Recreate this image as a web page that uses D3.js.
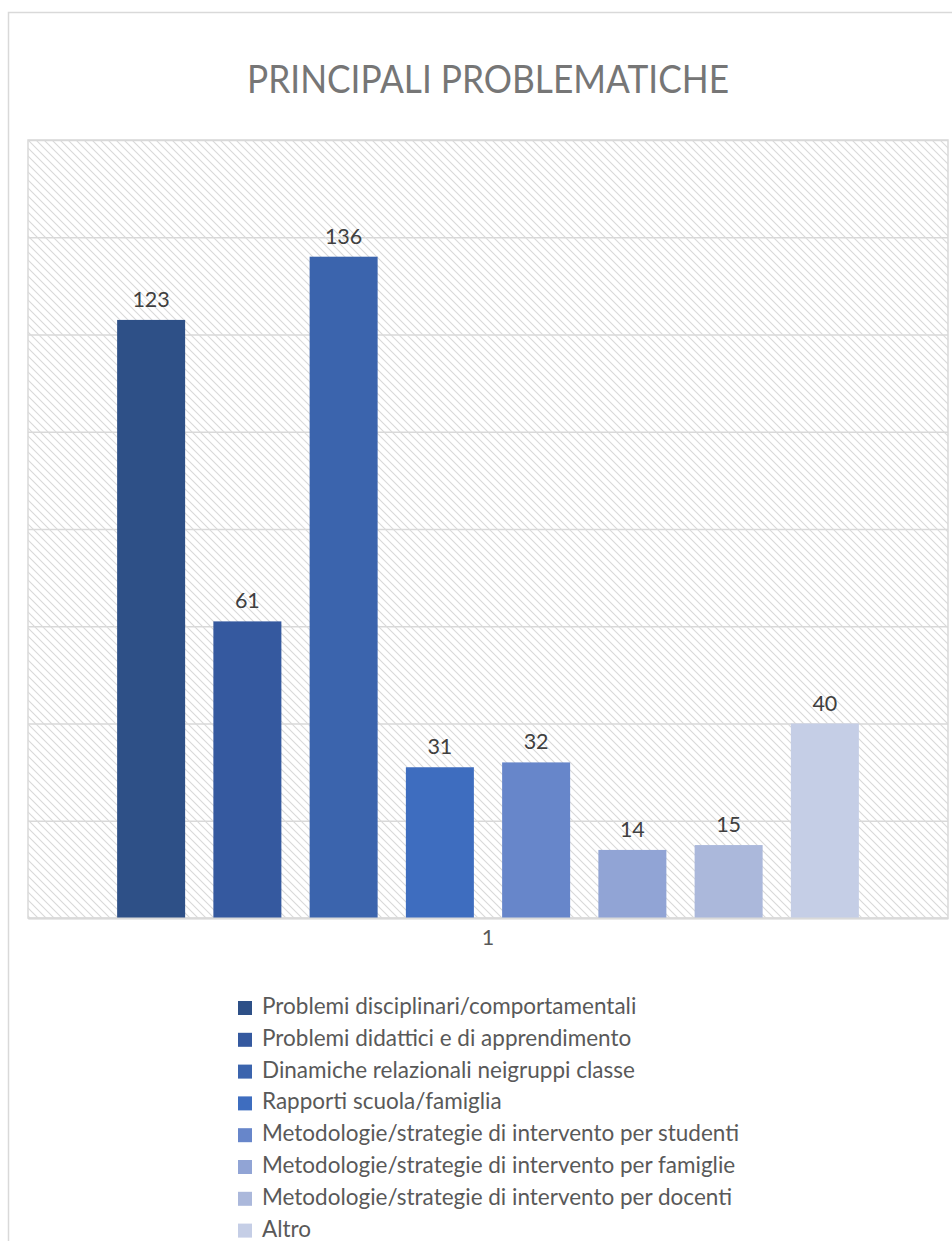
<!DOCTYPE html>
<html>
<head>
<meta charset="utf-8">
<script src="https://cdn.jsdelivr.net/npm/d3@7"></script>
<style>
  html, body { margin: 0; padding: 0; background: #fff; }
  svg { display: block; }
  text { font-family: Lato, "Open Sans", sans-serif; }
</style>
</head>
<body>
<div id="chart"></div>
<script>
// values
const categories = ["1"];
const series = [
  "Problemi disciplinari/comportamentali",
  "Problemi didattici e di apprendimento",
  "Dinamiche relazionali neigruppi classe",
  "Rapporti scuola/famiglia",
  "Metodologie/strategie di intervento per studenti",
  "Metodologie/strategie di intervento per famiglie",
  "Metodologie/strategie di intervento per docenti",
  "Altro"
];
const values = [123, 61, 136, 31, 32, 14, 15, 40];
const yTicks = [0, 20, 40, 60, 80, 100, 120, 140, 160];
const colors = ["#2e5087", "#35599f", "#3b64ad", "#3e6dbf", "#6786ca", "#91a4d5", "#abb8db", "#c5cee6"];

const width = 952, height = 1241;
const plot = {left: 28, right: 948, top: 140, bottom: 918};

const svg = d3.select("#chart").append("svg")
    .attr("width", width)
    .attr("height", height);

// hatch fill of the plot area
const defs = svg.append("defs");
const pat = defs.append("pattern")
    .attr("id", "hatch")
    .attr("patternUnits", "userSpaceOnUse")
    .attr("width", 8).attr("height", 8);
pat.append("rect").attr("width", 8).attr("height", 8).attr("fill", "#fff");
pat.append("path")
    .attr("d", "M-2,-2 L10,10 M-2,6 L2,10 M6,-2 L10,2")
    .attr("stroke", "#d9d9d9")
    .attr("stroke-width", 1.1);

// outer chart border (runs off the picture on the right and bottom)
svg.append("rect")
    .attr("x", 8.5).attr("y", 12.5)
    .attr("width", 1000).attr("height", 1300)
    .attr("fill", "none")
    .attr("stroke", "#d9d9d9")
    .attr("stroke-width", 1.5);

// title, squeezed to the narrow width of the original face
svg.append("text")
    .attr("x", (plot.left + plot.right) / 2)
    .attr("y", 93)
    .attr("text-anchor", "middle")
    .attr("fill", "#767676")
    .attr("textLength", 482)
    .attr("lengthAdjust", "spacingAndGlyphs")
    .style("font-size", "39px")
    .text("PRINCIPALI PROBLEMATICHE");

const y = d3.scaleLinear()
    .domain([0, d3.max(yTicks)])
    .range([plot.bottom, plot.top]);

const x0 = d3.scaleBand()
    .domain(categories)
    .range([plot.left, plot.right])
    .paddingOuter(0.0974);

const x1 = d3.scaleBand()
    .domain(series)
    .range([0, x0.bandwidth()])
    .paddingInner(0.2935)
    .paddingOuter(0.1468);

svg.append("rect")
    .attr("x", plot.left).attr("y", plot.top)
    .attr("width", plot.right - plot.left)
    .attr("height", plot.bottom - plot.top)
    .attr("fill", "url(#hatch)")
    .attr("stroke", "#d9d9d9")
    .attr("stroke-width", 1.5);

// gridlines
svg.append("g")
    .attr("transform", `translate(${plot.left},0)`)
    .call(d3.axisLeft(y).tickValues(yTicks).tickSize(-(plot.right - plot.left)).tickFormat(""))
    .call(g => g.select(".domain").remove())
    .call(g => g.selectAll("line").attr("stroke", "#d9d9d9").attr("stroke-width", 1.5));

const grp = svg.append("g")
    .attr("transform", `translate(${x0(categories[0])},0)`);

grp.selectAll("rect.bar")
    .data(values)
    .enter().append("rect")
    .attr("class", "bar")
    .attr("x", (d, i) => x1(series[i]))
    .attr("y", d => y(d))
    .attr("width", x1.bandwidth())
    .attr("height", d => y(0) - y(d))
    .attr("fill", (d, i) => colors[i]);

grp.selectAll("text.lbl")
    .data(values)
    .enter().append("text")
    .attr("class", "lbl")
    .attr("x", (d, i) => x1(series[i]) + x1.bandwidth() / 2)
    .attr("y", d => y(d) - 13)
    .attr("text-anchor", "middle")
    .attr("fill", "#404040")
    .style("font-size", "21.5px")
    .text(d => d);

// category axis
const xAxis = svg.append("g")
    .attr("transform", `translate(0,${plot.bottom})`)
    .call(d3.axisBottom(x0).tickSize(0).tickPadding(12));
xAxis.select(".domain").attr("stroke", "#d9d9d9").attr("stroke-width", 2);
xAxis.selectAll("text")
    .attr("fill", "#595959")
    .style("font-size", "21.5px")
    .style("font-family", "Lato, sans-serif");

// legend
const legend = svg.append("g")
    .attr("transform", "translate(238,1001)");
const rows = legend.selectAll("g")
    .data(series)
    .enter().append("g")
    .attr("transform", (d, i) => `translate(0,${i * 31.8})`);
rows.append("rect")
    .attr("width", 14).attr("height", 14)
    .attr("fill", (d, i) => colors[i]);
rows.append("text")
    .attr("x", 24)
    .attr("y", 13)
    .attr("fill", "#595959")
    .style("font-size", "22.5px")
    .text(d => d);
</script>
</body>
</html>
